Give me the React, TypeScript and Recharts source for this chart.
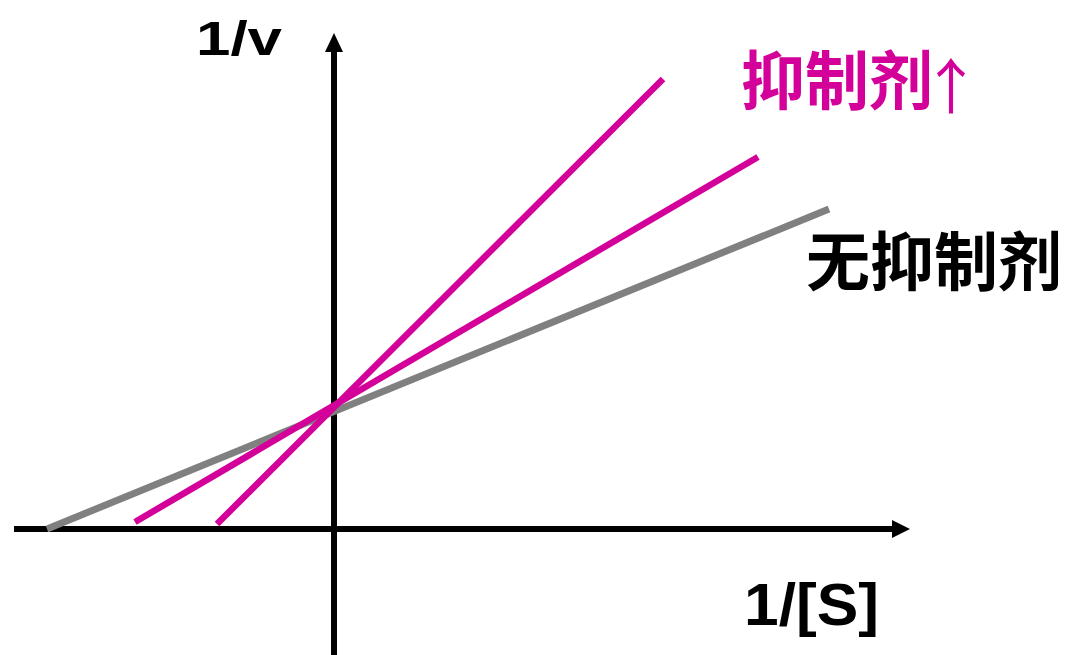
import { ReactNode } from 'react';
import { LineChart, Line, XAxis, YAxis, ReferenceLine, ReferenceDot } from 'recharts';

// Lineweaver-Burk plot, x = 1/[S], y = 1/v (arbitrary units)
const noInhibitor = [
  { x: -2.87, y: 0 },
  { x: 4.95, y: 3.2 }
];
const inhibitorLow = [
  { x: -1.99, y: 0.07 },
  { x: 4.24, y: 3.72 }
];
const inhibitorHigh = [
  { x: -1.17, y: 0.05 },
  { x: 3.29, y: 4.5 }
];

const xDomain = [-3.34, 7.42];
const yDomain = [-1.26, 5.29];
const xAxisSpan = [-3.2, 5.6];
const yAxisSpan = [-1.26, 4.8];
const xArrowTip = 5.76;
const yArrowTip = 4.96;

const MAGENTA = '#d4009a';
const GRAY = '#808080';

const W = 1076;
const H = 655;

function ArrowRight(props: any): ReactNode {
  const { cx, cy } = props;
  return <polygon points={`${cx},${cy} ${cx - 18},${cy - 9} ${cx - 18},${cy + 9}`} fill="#000" />;
}

function ArrowUp(props: any): ReactNode {
  const { cx, cy } = props;
  return <polygon points={`${cx},${cy} ${cx - 9},${cy + 19} ${cx + 9},${cy + 19}`} fill="#000" />;
}

export default function App(): ReactNode {
  return (
    <div style={{ position: 'absolute', left: 0, top: 0, width: W, height: H, background: '#fff' }}>
      <LineChart width={W} height={H} margin={{ top: 0, right: 0, bottom: 0, left: 0 }}>
        <XAxis type="number" dataKey="x" domain={xDomain} allowDataOverflow hide />
        <YAxis type="number" dataKey="y" domain={yDomain} allowDataOverflow hide />
        <ReferenceLine
          segment={[{ x: xAxisSpan[0], y: 0 }, { x: xAxisSpan[1], y: 0 }]}
          stroke="#000"
          strokeWidth={6}
          ifOverflow="visible"
        />
        <ReferenceLine
          segment={[{ x: 0, y: yAxisSpan[0] }, { x: 0, y: yAxisSpan[1] }]}
          stroke="#000"
          strokeWidth={6}
          ifOverflow="visible"
        />
        <ReferenceDot x={xArrowTip} y={0} r={0} shape={ArrowRight} ifOverflow="visible" />
        <ReferenceDot x={0} y={yArrowTip} r={0} shape={ArrowUp} ifOverflow="visible" />
        <Line data={noInhibitor} dataKey="y" stroke={GRAY} strokeWidth={7} dot={false} activeDot={false} isAnimationActive={false} />
        <Line data={inhibitorLow} dataKey="y" stroke={MAGENTA} strokeWidth={6.5} dot={false} activeDot={false} isAnimationActive={false} />
        <Line data={inhibitorHigh} dataKey="y" stroke={MAGENTA} strokeWidth={6.5} dot={false} activeDot={false} isAnimationActive={false} />
      </LineChart>
      <svg width={W} height={H} style={{ position: 'absolute', left: 0, top: 0, pointerEvents: 'none' }}>
        <text x={196} y={55} fontFamily="Liberation Sans, Arial, sans-serif" fontWeight="bold" fontSize={49} textLength={86} lengthAdjust="spacingAndGlyphs" fill="#000">
          1/v
        </text>
        <text x={744} y={625} fontFamily="Liberation Sans, Arial, sans-serif" fontWeight="bold" fontSize={59} textLength={135} lengthAdjust="spacingAndGlyphs" fill="#000">
          1/[S]
        </text>
        <text x={741} y={104} fontFamily="Noto Sans CJK SC" fontWeight="bold" fontSize={64} fill={MAGENTA}>
          抑制剂
          <tspan fontWeight="normal" fontSize={60} dx={-12} dy={5}>↑</tspan>
        </text>
        <text x={806} y={285} fontFamily="Noto Sans CJK SC" fontWeight="bold" fontSize={64} fill="#000">
          无抑制剂
        </text>
      </svg>
    </div>
  );
}
